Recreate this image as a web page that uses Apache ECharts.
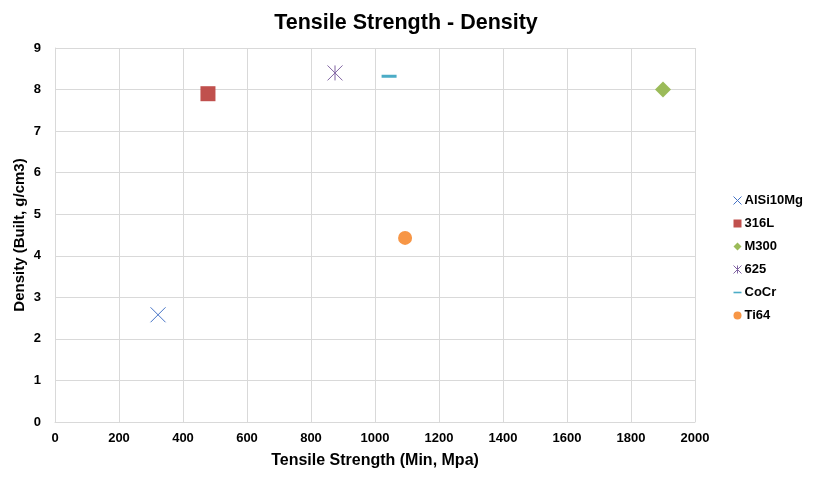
<!DOCTYPE html>
<html>
<head>
<meta charset="utf-8">
<script src="https://cdn.jsdelivr.net/npm/echarts@6/dist/echarts.min.js"></script>
<style>
  html, body { margin: 0; padding: 0; background: #fff; }
  #chart { width: 820px; height: 487px; }
</style>
</head>
<body>
<div id="chart"></div>
<script>
// materials: [tensile strength (min, MPa), built density g/cm3]
var names = ['AlSi10Mg', '316L', 'M300', '625', 'CoCr', 'Ti64'];
var tensile = [322, 478, 1900, 875, 1044, 1094];
var density = [2.58, 7.9, 8.0, 8.4, 8.32, 4.43];
var xTicks = [0, 200, 400, 600, 800, 1000, 1200, 1400, 1600, 1800, 2000];
var yTicks = [0, 1, 2, 3, 4, 5, 6, 7, 8, 9];

var colors = ['#4472C4', '#C0504D', '#9BBB59', '#8064A2', '#4BACC6', '#F79646'];
var crossPath = 'path://M0,0L10,10M10,0L0,10';
var starPath = 'path://M0,0L10,10M10,0L0,10M5,0L5,10';

var markers = [
    { symbol: crossPath, size: 15, line: true },
    { symbol: 'rect', size: 15 },
    { symbol: 'diamond', size: 16 },
    { symbol: starPath, size: 15, line: true },
    { symbol: 'rect', size: [15, 3] },
    { symbol: 'circle', size: 14 }
];

var chart = echarts.init(document.getElementById('chart'));

var series = [];
for (var i = 0; i < names.length; i++) {
    var m = markers[i];
    series.push({
        name: names[i],
        type: 'scatter',
        symbol: m.symbol,
        symbolSize: m.size,
        data: [[tensile[i], density[i]]],
        itemStyle: m.line ? {
            color: 'rgba(0,0,0,0)',
            borderColor: colors[i],
            borderWidth: 1,
            opacity: 1
        } : { color: colors[i], opacity: 1 }
    });
}

var legendData = names.map(function (n, i) {
    var m = markers[i];
    var icon = m.symbol;
    if (i === 4) icon = 'path://M0,4L10,4L10,6L0,6Z';
    return { name: n, icon: icon };
});

var option = {
    animation: false,
    textStyle: { fontFamily: 'Liberation Sans, Arial, sans-serif' },
    title: {
        text: 'Tensile Strength - Density',
        left: 401,
        textAlign: 'center',
        top: 7,
        textStyle: { fontSize: 21.5, fontWeight: 'bold', color: '#000' }
    },
    legend: {
        orient: 'vertical',
        left: 728,
        top: 189,
        itemWidth: 8,
        itemHeight: 8,
        itemGap: 10,
        itemStyle: { borderWidth: 1, opacity: 1 },
        textStyle: { fontSize: 13, fontWeight: 'bold', color: '#000', padding: [0, 0, 0, -2] },
        data: legendData
    },
    grid: { left: 55, right: 125, top: 48, bottom: 65 },
    xAxis: {
        type: 'value',
        min: xTicks[0],
        max: xTicks[xTicks.length - 1],
        interval: 200,
        name: 'Tensile Strength (Min, Mpa)',
        nameLocation: 'middle',
        nameGap: 31,
        nameTextStyle: { fontSize: 16, fontWeight: 'bold', color: '#000' },
        axisLine: { lineStyle: { color: '#d9d9d9' } },
        axisTick: { show: false },
        axisLabel: { fontSize: 13, fontWeight: 'bold', color: '#000', margin: 10,
            formatter: function (v) { return String(v); } },
        splitLine: { lineStyle: { color: '#d9d9d9' } }
    },
    yAxis: {
        type: 'value',
        min: yTicks[0],
        max: yTicks[yTicks.length - 1],
        interval: 1,
        name: 'Density (Built, g/cm3)',
        nameLocation: 'middle',
        nameGap: 28,
        nameMoveOverlap: false,
        nameTextStyle: { fontSize: 15, fontWeight: 'bold', color: '#000' },
        axisLine: { show: true, lineStyle: { color: '#d9d9d9' } },
        axisTick: { show: false },
        axisLabel: { fontSize: 13, fontWeight: 'bold', color: '#000', margin: 14 },
        splitLine: { lineStyle: { color: '#d9d9d9' } }
    },
    series: series
};

chart.setOption(option);
</script>
</body>
</html>
